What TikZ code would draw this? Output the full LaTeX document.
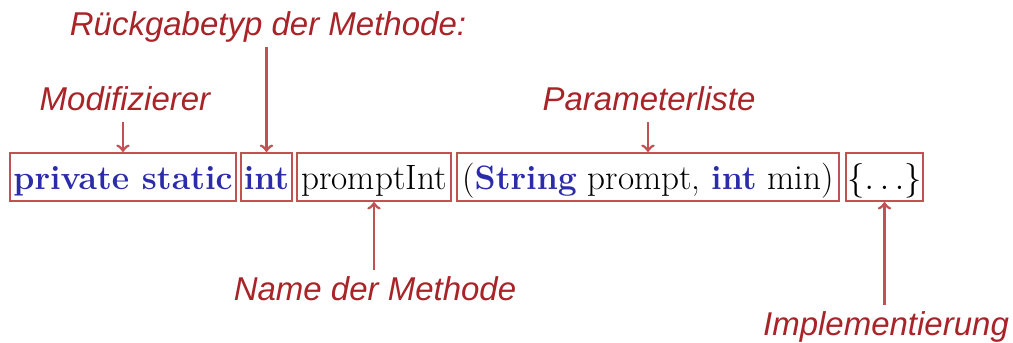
\documentclass[tikz,border=0pt]{standalone}
\usepackage{fontspec}
\newfontfamily\labelfont{Liberation Sans}
\definecolor{lblred}{RGB}{168,36,40}
\definecolor{linered}{RGB}{192,82,84}
\definecolor{kwblue}{RGB}{44,44,170}
\newcommand{\kw}[1]{{\fontsize{16.9}{20}\selectfont\color{kwblue}\bfseries #1}}

\begin{document}
\begin{tikzpicture}[x=0.5pt, y=-0.5pt,
    teil/.style={draw=linered, line width=1pt, minimum height=24pt, inner sep=0pt,
      text height=16.5pt, text depth=4pt, font=\fontsize{17.6}{20}\selectfont},
    beschr/.style={text=lblred, inner sep=2pt, text height=13pt, text depth=4pt,
      font=\labelfont\itshape\fontsize{16.5}{19}\selectfont},
    pfeil/.style={draw=linered, line width=1.4pt, ->}]
    \useasboundingbox (0,0) rectangle (1013,343);
    % Bestandteile der Signatur
    \node[teil, minimum width=113pt] (mod) at (123, 177) {\kw{private static}};
    \node[teil, minimum width=25.5pt] (ret) at (266.5, 177) {\kw{int}};
    \node[teil, minimum width=77pt] (name) at (374, 177) {promptInt};
    \node[teil, minimum width=191pt] (par) at (648, 177) {(\kw{String} prompt, \kw{int} min)};
    \node[teil, minimum width=38.5pt] (impl) at (884.5, 177) {$\{\ldots\}$};
    % Beschriftungen
    \node[beschr] (lmod) at (125, 101) {Modifizierer};
    \node[beschr] (lret) at (268, 26) {Rückgabetyp der Methode:};
    \node[beschr] (lpar) at (649, 101) {Parameterliste};
    \node[beschr] (lname) at (375, 291) {Name der Methode};
    \node[beschr] (limpl) at (886, 326) {Implementierung};
    % Pfeile
    \draw[pfeil] (lmod.south -| mod) -- (mod.north);
    \draw[pfeil] (lret.south -| ret) -- (ret.north);
    \draw[pfeil] (lpar.south -| par) -- (par.north);
    \draw[pfeil] (lname.north -| name) -- (name.south);
    \draw[pfeil] (limpl.north -| impl) -- (impl.south);
\end{tikzpicture}
\end{document}
